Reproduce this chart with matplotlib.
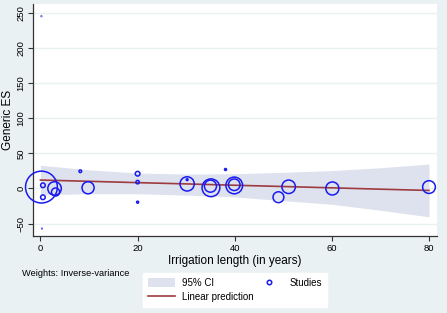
import matplotlib

matplotlib.use("Agg")
import matplotlib.pyplot as plt
from matplotlib.lines import Line2D
from matplotlib.patches import Patch

plt.rcParams["font.family"] = ["Liberation Sans", "DejaVu Sans"]

# studies: irrigation length (years), generic effect size, inverse-variance weight
study_x = [0.2, 0.3, 0.2, 0.5, 0.5, 2.9, 3.1, 8.2, 9.8, 20.0, 20.0, 20.0,
           30.2, 30.2, 35.1, 35.0, 38.1, 39.9, 39.9, 49.0, 51.1, 60.1, 80.0]
study_es = [245, -57, 2, 4.5, -12.5, 0, -5, 24.5, 1, 21, 9, -19.5,
            6.5, 12.5, 1, 3.3, 27, 4.3, 5.3, -12.4, 2.4, 0, 2]
study_w = [0.08, 0.08, 250, 5.3, 5.3, 45, 16, 1.7, 36, 5.3, 2.9, 1.0,
           50, 0.8, 78, 36, 1.0, 69, 33, 29, 45, 42, 40]

# meta-regression fit and 95% CI band
ci_x = [0, 10, 20, 30, 40, 50, 60, 70, 80]
fit_y = [12, 10.2, 8.3, 6.5, 4.6, 2.8, 0.9, -1.0, -2.8]
ci_hi = [33, 26.5, 22, 20.5, 21, 23, 25.5, 29.5, 34.7]
ci_lo = [-9, -7.5, -7.5, -9.5, -12, -17.3, -22.5, -31, -40.3]

BG = "#EAF1F3"
BLUE = "#1A1AF0"
RED = "#9E3B3F"
BAND = "#DDE2EE"

fig = plt.figure(figsize=(4.47, 3.13), dpi=100, facecolor=BG)
ax = fig.add_axes([33 / 447, 1 - 236 / 313, 404 / 447, 232 / 313])
ax.set_facecolor("white")

ax.fill_between(ci_x, ci_lo, ci_hi, color=BAND, lw=0, zorder=1)
ax.plot(ci_x, fit_y, color=RED, lw=1.2, zorder=2)
sizes = [w * 2.1 for w in study_w]
ax.scatter(study_x, study_es, s=sizes, facecolors="none", edgecolors=BLUE,
           linewidths=1.1, zorder=3, clip_on=False)

ax.set_xlim(-1.54, 81.65)
ax.set_ylim(-67.6, 262.4)
ax.set_xticks([0, 20, 40, 60, 80])
ax.set_yticks([-50, 0, 50, 100, 150, 200, 250])
ax.yaxis.grid(True, color=BG, lw=1.0, zorder=0)
ax.set_axisbelow(True)
for s in ("top", "right"):
    ax.spines[s].set_visible(False)
for s in ("left", "bottom"):
    ax.spines[s].set_color("#333333")
    ax.spines[s].set_linewidth(0.9)
ax.tick_params(axis="both", direction="out", length=3.5, width=0.8,
               color="#333333", labelsize=6.8, pad=2)
for lab in ax.get_yticklabels():
    lab.set_rotation(90)
    lab.set_va("center")

ax.set_xlabel("Irrigation length (in years)", fontsize=8.5, labelpad=2)
ax.set_ylabel("Generic ES", fontsize=8.5, labelpad=2)

fig.text(22 / 447, 1 - 273 / 313, "Weights: Inverse-variance", fontsize=6.7,
         va="center", ha="left")

handles = [
    Patch(facecolor=BAND, edgecolor="none", label="95% CI"),
    Line2D([], [], color=RED, lw=1.2, label="Linear prediction"),
    Line2D([], [], ls="none", marker="o", ms=3.2, mfc="none", mec=BLUE,
           mew=1.1, label="Studies"),
]
leg = fig.legend(handles=handles, ncol=2, loc="center",
                 bbox_to_anchor=(235 / 447, 1 - 290 / 313), fontsize=7,
                 frameon=True, fancybox=False, edgecolor="white",
                 facecolor="white", framealpha=1, handlelength=2.8,
                 handleheight=1.0, columnspacing=0.2, borderpad=0.5,
                 labelspacing=0.45, handletextpad=0.7)

fig.savefig("out.png", dpi=100, facecolor=BG)
